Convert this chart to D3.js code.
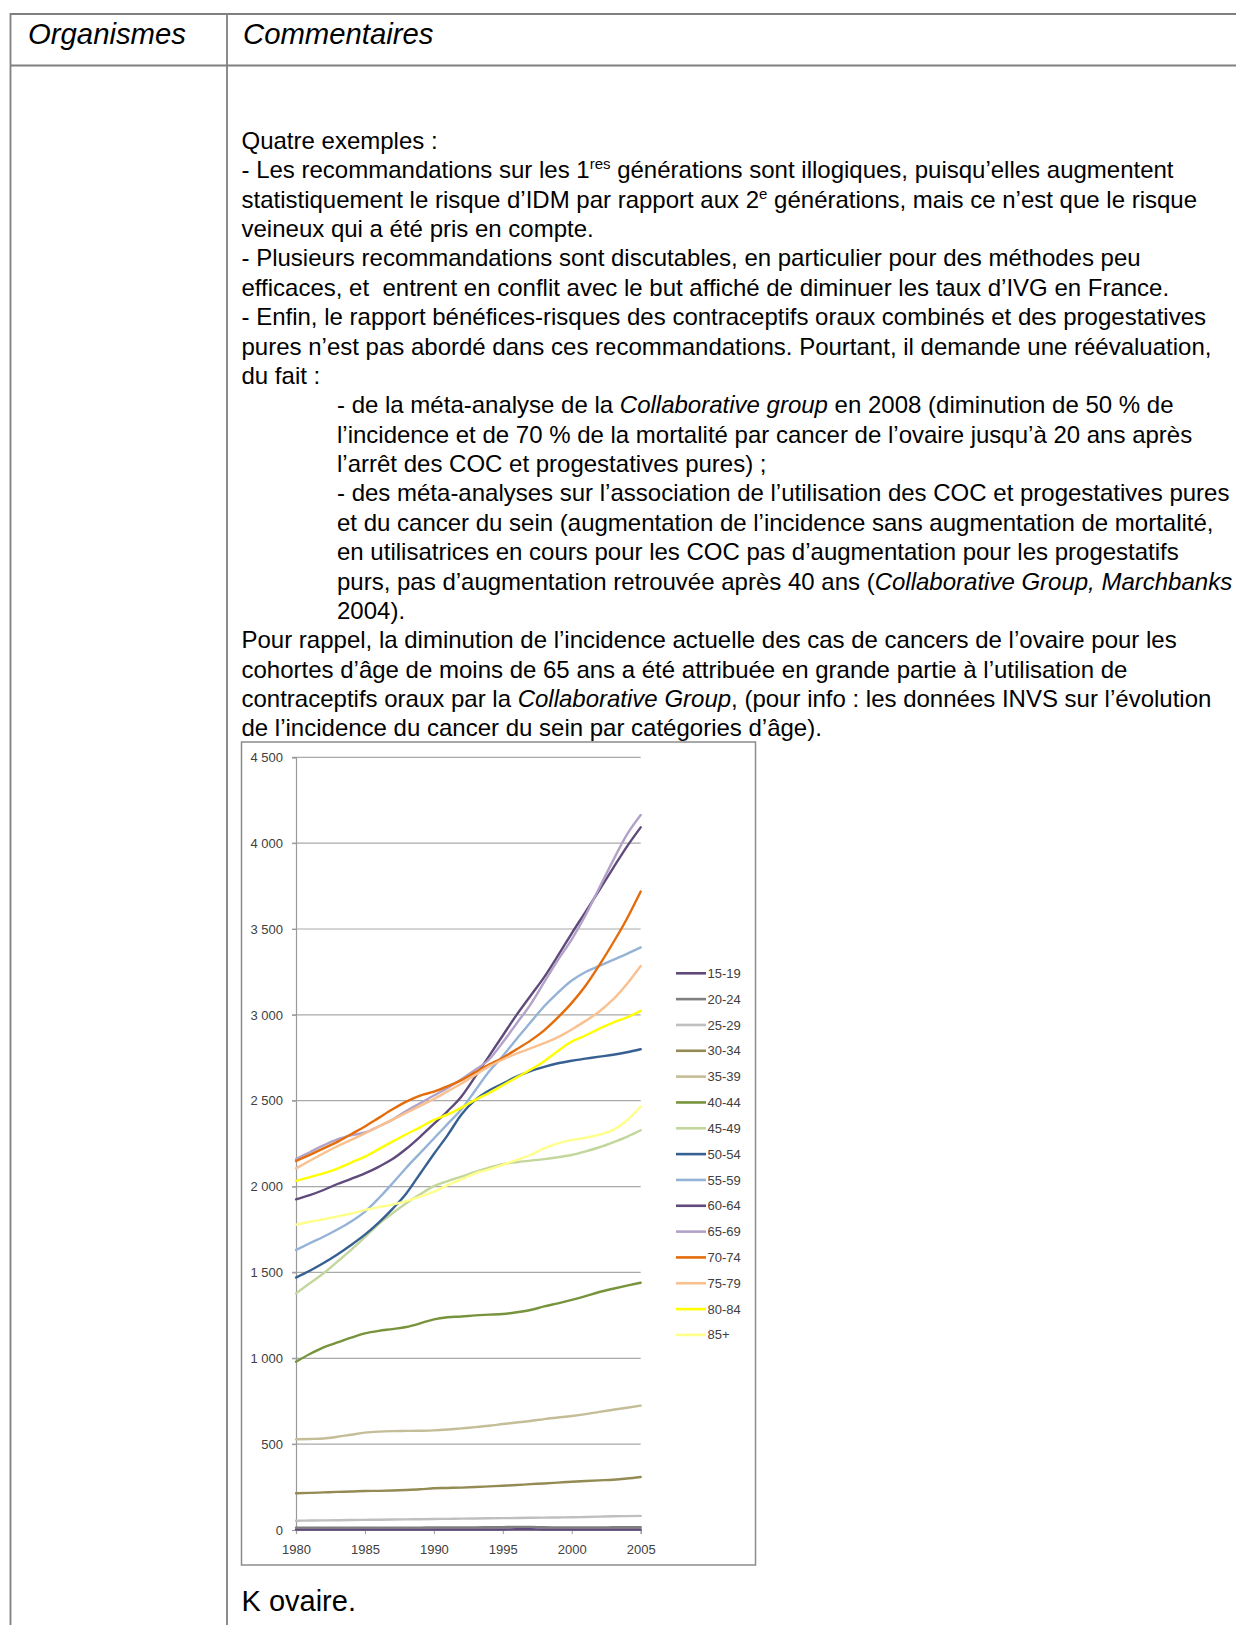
<!DOCTYPE html>
<html><head><meta charset="utf-8">
<script src="https://cdn.jsdelivr.net/npm/d3@7/dist/d3.min.js"></script>
<style>
html,body{margin:0;padding:0;background:#fff;}
svg{display:block;}
</style></head>
<body>
<script>
// ---------- DATA ----------
const years = [1980,1981,1982,1983,1984,1985,1986,1987,1988,1989,1990,1991,1992,1993,1994,1995,1996,1997,1998,1999,2000,2001,2002,2003,2004,2005];
const ageGroups = ["15-19","20-24","25-29","30-34","35-39","40-44","45-49","50-54","55-59","60-64","65-69","70-74","75-79","80-84","85+"];
const v15_19 = [3,3,3,3,3,3,3,3,3,3,3,3,3,3,3,3,4,4,3,3,3,3,3,3,3,3];
const v20_24 = [14,14,14,14,14,14,14,14,14,14,15,15,15,15,16,17,18,18,16,15,15,15,15,16,16,16];
const v25_29 = [54,55,56,57,58,59,60,61,62,63,64,65,66,67,68,69,70,71,72,73,74,76,78,80,81,82];
const v30_34 = [214,216,219,222,224,227,228,230,233,237,243,245,247,250,254,258,262,267,271,276,281,285,289,293,300,309];
const v35_39 = [528,530,533,543,555,567,573,576,577,578,580,585,592,599,607,617,626,635,646,655,664,675,688,700,712,724];
const v40_44 = [980,1025,1064,1092,1120,1145,1160,1170,1182,1203,1227,1239,1243,1250,1254,1258,1268,1281,1302,1320,1340,1362,1386,1405,1423,1440];
const v45_49 = [1378,1437,1495,1563,1631,1705,1782,1845,1903,1955,2003,2032,2058,2085,2110,2130,2142,2151,2160,2171,2184,2205,2229,2258,2290,2328];
const v50_54 = [1470,1510,1555,1605,1660,1720,1790,1870,1960,2075,2190,2300,2420,2505,2560,2600,2640,2672,2697,2718,2733,2745,2757,2768,2782,2800];
const v55_59 = [1631,1670,1708,1750,1796,1854,1932,2019,2110,2195,2280,2365,2450,2560,2670,2760,2860,2955,3050,3130,3200,3250,3285,3320,3355,3393];
const v60_64 = [1926,1950,1980,2015,2045,2077,2115,2160,2220,2290,2365,2440,2525,2640,2760,2880,3000,3110,3220,3345,3475,3600,3727,3855,3980,4092];
const v65_69 = [2160,2200,2240,2275,2298,2315,2350,2390,2440,2485,2530,2575,2625,2680,2740,2840,2950,3060,3190,3320,3440,3580,3740,3900,4050,4164];
const v70_74 = [2149,2185,2222,2260,2305,2350,2400,2450,2495,2530,2553,2585,2620,2665,2710,2750,2800,2850,2910,2985,3070,3170,3290,3420,3560,3718];
const v75_79 = [2106,2150,2194,2235,2272,2310,2350,2390,2430,2470,2510,2555,2600,2650,2700,2740,2775,2805,2835,2870,2915,2965,3020,3090,3180,3285];
const v80_84 = [2033,2055,2077,2105,2140,2174,2218,2262,2305,2345,2388,2420,2460,2505,2545,2590,2635,2680,2730,2790,2845,2880,2920,2955,2985,3023];
const v85p   = [1778,1795,1810,1826,1843,1864,1880,1895,1915,1941,1970,2009,2042,2077,2100,2126,2155,2184,2222,2252,2271,2285,2302,2330,2385,2466];
const seriesValues = [v15_19,v20_24,v25_29,v30_34,v35_39,v40_44,v45_49,v50_54,v55_59,v60_64,v65_69,v70_74,v75_79,v80_84,v85p];
const yTickValues = [0,500,1000,1500,2000,2500,3000,3500,4000,4500];
const xTickValues = [1980,1985,1990,1995,2000,2005];

// ---------- STYLES ----------
const seriesColors = ["#604a7b","#7f7f7f","#bfbfbf","#948a54","#c4bd97","#77933c","#c3d69b","#376092","#95b3d7","#604a7b","#b3a2c7","#e46c0a","#fac090","#ffff00","#ffff8c"];

// text (original document)
const headerLeft = "Organismes";
const headerRight = "Commentaires";
const bodyLines = [
  {ind:0, segs:[["Quatre exemples :"]]},
  {ind:0, segs:[["- Les recommandations sur les 1"],["res","sup"],[" générations sont illogiques, puisqu’elles augmentent"]]},
  {ind:0, segs:[["statistiquement le risque d’IDM par rapport aux 2"],["e","sup"],[" générations, mais ce n’est que le risque"]]},
  {ind:0, segs:[["veineux qui a été pris en compte."]]},
  {ind:0, segs:[["- Plusieurs recommandations sont discutables, en particulier pour des méthodes peu"]]},
  {ind:0, segs:[["efficaces, et \u00a0entrent en conflit avec le but affiché de diminuer les taux d’IVG en France."]]},
  {ind:0, segs:[["- Enfin, le rapport bénéfices-risques des contraceptifs oraux combinés et des progestatives"]]},
  {ind:0, segs:[["pures n’est pas abordé dans ces recommandations. Pourtant, il demande une réévaluation,"]]},
  {ind:0, segs:[["du fait :"]]},
  {ind:1, segs:[["- de la méta-analyse de la "],["Collaborative group","i"],[" en 2008 (diminution de 50 % de"]]},
  {ind:1, segs:[["l’incidence et de 70 % de la mortalité par cancer de l’ovaire jusqu’à 20 ans après"]]},
  {ind:1, segs:[["l’arrêt des COC et progestatives pures) ;"]]},
  {ind:1, segs:[["- des méta-analyses sur l’association de l’utilisation des COC et progestatives pures"]]},
  {ind:1, segs:[["et du cancer du sein (augmentation de l’incidence sans augmentation de mortalité,"]]},
  {ind:1, segs:[["en utilisatrices en cours pour les COC pas d’augmentation pour les progestatifs"]]},
  {ind:1, segs:[["purs, pas d’augmentation retrouvée après 40 ans ("],["Collaborative Group, Marchbanks","i"]]},
  {ind:1, segs:[["2004)."]]},
  {ind:0, segs:[["Pour rappel, la diminution de l’incidence actuelle des cas de cancers de l’ovaire pour les"]]},
  {ind:0, segs:[["cohortes d’âge de moins de 65 ans a été attribuée en grande partie à l’utilisation de"]]},
  {ind:0, segs:[["contraceptifs oraux par la "],["Collaborative Group","i"],[", (pour info : les données INVS sur l’évolution"]]},
  {ind:0, segs:[["de l’incidence du cancer du sein par catégories d’âge)."]]}
];
const caption = "K ovaire.";

// ---------- DRAW ----------
const W = 1236, H = 1625;
const svg = d3.select("body").append("svg").attr("width", W).attr("height", H)
  .style("font-family", "'Liberation Sans', Arial, sans-serif");

// table
const tbl = svg.append("g").attr("stroke", "#808080").attr("stroke-width", 1.8).attr("fill", "none");
tbl.append("line").attr("x1", 10.5).attr("x2", W).attr("y1", 14).attr("y2", 14);
tbl.append("line").attr("x1", 10.5).attr("x2", W).attr("y1", 65.5).attr("y2", 65.5);
tbl.append("line").attr("x1", 10.5).attr("x2", 10.5).attr("y1", 13).attr("y2", H);
tbl.append("line").attr("x1", 227).attr("x2", 227).attr("y1", 13).attr("y2", H);

svg.append("text").attr("x", 28).attr("y", 43.5).attr("font-size", 29.3).attr("font-style", "italic").text(headerLeft);
svg.append("text").attr("x", 243).attr("y", 43.5).attr("font-size", 29.3).attr("font-style", "italic").text(headerRight);

// body text
const fs = 24, lh = 29.37, by0 = 149, supRise = 9;
bodyLines.forEach((ln, i) => {
  const t = svg.append("text").attr("x", ln.ind ? 337 : 241.5).attr("y", by0 + i * lh).attr("font-size", fs).attr("fill", "#000");
  let raised = false;
  ln.segs.forEach(s => {
    const ts = t.append("tspan").text(s[0]);
    if (s[1] === "sup") {
      ts.attr("font-size", 15).attr("dy", -supRise);
      raised = true;
    } else {
      if (raised) { ts.attr("dy", supRise); raised = false; }
      if (s[1] === "i") ts.attr("font-style", "italic");
    }
  });
});

// chart frame
svg.append("rect").attr("x", 241.5).attr("y", 742).attr("width", 514).attr("height", 823)
  .attr("fill", "#fff").attr("stroke", "#8c8c8c").attr("stroke-width", 1.5);

const x = d3.scaleLinear().domain([1980, 2005]).range([296, 640.7]);
const y = d3.scaleLinear().domain([0, 4500]).range([1530, 757.3]);

// gridlines
svg.append("g").selectAll("line").data(yTickValues.filter(d => d > 0)).join("line")
  .attr("x1", 292).attr("x2", x(2005)).attr("y1", d => y(d)).attr("y2", d => y(d))
  .attr("stroke", "#a9a9a9").attr("stroke-width", 1.2);

// y axis
const yAxis = d3.axisLeft(y).tickValues(yTickValues).tickSize(4).tickPadding(9)
  .tickFormat(d => d3.format(",")(d).replace(/,/g, " "));
const gy = svg.append("g").attr("transform", "translate(296,0)").call(yAxis);
gy.select(".domain").attr("stroke", "#9a9a9a").attr("stroke-width", 1.2);
gy.selectAll(".tick line").attr("stroke", "#9a9a9a");
gy.selectAll("text").attr("font-size", 13).attr("fill", "#404040")
  .attr("font-family", "'Liberation Sans', Arial, sans-serif");

// x axis
const xAxis = d3.axisBottom(x).tickValues(xTickValues).tickSize(4).tickPadding(11).tickFormat(d3.format("d"));
const gx = svg.append("g").attr("transform", "translate(0,1530)").call(xAxis);
gx.select(".domain").attr("stroke", "#9a9a9a").attr("stroke-width", 1.2);
gx.selectAll(".tick line").attr("stroke", "#9a9a9a");
gx.selectAll("text").attr("font-size", 13).attr("fill", "#404040")
  .attr("font-family", "'Liberation Sans', Arial, sans-serif");

// lines
const line = d3.line().x((d, i) => x(years[i])).y(d => y(d)).curve(d3.curveMonotoneX);
svg.append("g").selectAll("path").data(seriesValues).join("path")
  .attr("d", d => line(d)).attr("fill", "none")
  .attr("stroke", (d, i) => seriesColors[i]).attr("stroke-width", 2.4)
  .attr("stroke-linejoin", "round").attr("stroke-linecap", "round");

// legend
const lg = svg.append("g").selectAll("g").data(ageGroups).join("g")
  .attr("transform", (d, i) => `translate(676,${973.3 + i * 25.83})`);
lg.append("line").attr("x1", 0).attr("x2", 30).attr("stroke", (d, i) => seriesColors[i]).attr("stroke-width", 2.6);
lg.append("text").attr("x", 31.5).attr("dy", "0.35em").attr("font-size", 13).attr("fill", "#404040").text(d => d);

// caption
svg.append("text").attr("x", 241.5).attr("y", 1611).attr("font-size", 29).attr("fill", "#000").text(caption);
</script>
</body></html>
